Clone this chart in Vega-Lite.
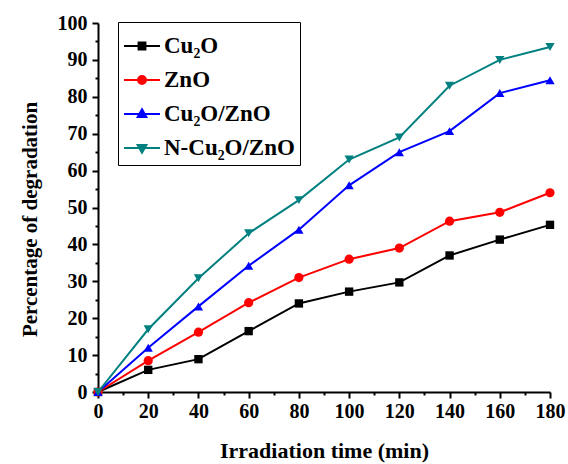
{
  "$schema": "https://vega.github.io/schema/vega-lite/v6.json",
  "width": 452,
  "height": 369,
  "autosize": {"type": "none"},
  "padding": {"left": 98, "top": 23, "right": 18, "bottom": 72},
  "background": "white",
  "config": {
    "view": {"stroke": null},
    "font": "Liberation Serif",
    "axis": {
      "labelFont": "Liberation Serif",
      "labelFontWeight": "bold",
      "labelFontSize": 20,
      "labelColor": "black",
      "titleFont": "Liberation Serif",
      "titleFontWeight": "bold",
      "titleFontSize": 22,
      "titleColor": "black",
      "domainColor": "black",
      "domainWidth": 2,
      "tickColor": "black",
      "tickWidth": 2,
      "grid": false
    },
    "legend": {
      "orient": "none",
      "legendX": 20,
      "legendY": -1,
      "strokeColor": "black",
      "fillColor": "white",
      "padding": 5,
      "labelFont": "Liberation Serif",
      "labelFontWeight": "bold",
      "labelFontSize": 23,
      "labelColor": "black",
      "labelLimit": 300,
      "symbolSize": 1296,
      "symbolStrokeWidth": 2,
      "rowPadding": 3,
      "labelOffset": 3
    }
  },
  "data": {
    "values": [
      {"t": 0, "s": "Cu₂O", "v": 0}, {"t": 20, "s": "Cu₂O", "v": 6}, {"t": 40, "s": "Cu₂O", "v": 8.9}, {"t": 60, "s": "Cu₂O", "v": 16.5}, {"t": 80, "s": "Cu₂O", "v": 24}, {"t": 100, "s": "Cu₂O", "v": 27.2}, {"t": 120, "s": "Cu₂O", "v": 29.7}, {"t": 140, "s": "Cu₂O", "v": 37}, {"t": 160, "s": "Cu₂O", "v": 41.3}, {"t": 180, "s": "Cu₂O", "v": 45.3},
      {"t": 0, "s": "ZnO", "v": 0}, {"t": 20, "s": "ZnO", "v": 8.5}, {"t": 40, "s": "ZnO", "v": 16.2}, {"t": 60, "s": "ZnO", "v": 24.2}, {"t": 80, "s": "ZnO", "v": 31}, {"t": 100, "s": "ZnO", "v": 36}, {"t": 120, "s": "ZnO", "v": 39}, {"t": 140, "s": "ZnO", "v": 46.3}, {"t": 160, "s": "ZnO", "v": 48.7}, {"t": 180, "s": "ZnO", "v": 54},
      {"t": 0, "s": "Cu₂O/ZnO", "v": 0}, {"t": 20, "s": "Cu₂O/ZnO", "v": 12}, {"t": 40, "s": "Cu₂O/ZnO", "v": 23.2}, {"t": 60, "s": "Cu₂O/ZnO", "v": 34.2}, {"t": 80, "s": "Cu₂O/ZnO", "v": 44}, {"t": 100, "s": "Cu₂O/ZnO", "v": 56}, {"t": 120, "s": "Cu₂O/ZnO", "v": 65}, {"t": 140, "s": "Cu₂O/ZnO", "v": 70.7}, {"t": 160, "s": "Cu₂O/ZnO", "v": 81}, {"t": 180, "s": "Cu₂O/ZnO", "v": 84.5},
      {"t": 0, "s": "N-Cu₂O/ZnO", "v": 0}, {"t": 20, "s": "N-Cu₂O/ZnO", "v": 17}, {"t": 40, "s": "N-Cu₂O/ZnO", "v": 30.8}, {"t": 60, "s": "N-Cu₂O/ZnO", "v": 43}, {"t": 80, "s": "N-Cu₂O/ZnO", "v": 52}, {"t": 100, "s": "N-Cu₂O/ZnO", "v": 63}, {"t": 120, "s": "N-Cu₂O/ZnO", "v": 69}, {"t": 140, "s": "N-Cu₂O/ZnO", "v": 83}, {"t": 160, "s": "N-Cu₂O/ZnO", "v": 90}, {"t": 180, "s": "N-Cu₂O/ZnO", "v": 93.5}
    ]
  },
  "encoding": {
    "x": {
      "field": "t", "type": "quantitative",
      "scale": {"domain": [0, 180], "nice": false},
      "axis": {
        "title": "Irradiation time (min)",
        "values": [0, 10, 20, 30, 40, 50, 60, 70, 80, 90, 100, 110, 120, 130, 140, 150, 160, 170, 180],
        "labelExpr": "datum.value % 20 === 0 ? datum.label : ''",
        "tickSize": {"condition": {"test": "datum.value % 20 === 0", "value": 6}, "value": 3},
        "labelPadding": 3,
        "titlePadding": 19,
        "labelFlush": false
      }
    },
    "y": {
      "field": "v", "type": "quantitative",
      "scale": {"domain": [0, 100], "nice": false},
      "axis": {
        "title": "Percentage of degradation",
        "values": [0, 5, 10, 15, 20, 25, 30, 35, 40, 45, 50, 55, 60, 65, 70, 75, 80, 85, 90, 95, 100],
        "labelExpr": "datum.value % 10 === 0 ? datum.label : ''",
        "tickSize": {"condition": {"test": "datum.value % 10 === 0", "value": 6}, "value": 3},
        "labelPadding": 5,
        "titlePadding": 17,
        "titleFontSize": 21,
        "titleY": 196,
        "labelFlush": false
      }
    },
    "color": {
      "field": "s", "type": "nominal",
      "scale": {"domain": ["Cu₂O", "ZnO", "Cu₂O/ZnO", "N-Cu₂O/ZnO"], "range": ["#000000", "#ff0000", "#0000ff", "#008080"]},
      "legend": {"title": null}
    }
  },
  "layer": [
    {
      "mark": {"type": "point", "filled": true, "size": 0, "opacity": 1, "strokeWidth": 2},
      "encoding": {
        "shape": {
          "field": "s", "type": "nominal",
          "scale": {"domain": ["Cu₂O", "ZnO", "Cu₂O/ZnO", "N-Cu₂O/ZnO"], "range": [
            "M-1,0H1M-0.19,-0.19H0.19V0.19H-0.19Z",
            "M-1,0H1M-0.22,0A0.22,0.22 0 1,0 0.22,0A0.22,0.22 0 1,0 -0.22,0Z",
            "M-1,0H1M0,-0.26L0.24,0.16H-0.24Z",
            "M-1,0H1M0,0.26L0.24,-0.16H-0.24Z"
          ]},
          "legend": {"title": null}
        }
      }
    },
    {
      "mark": {"type": "line", "strokeWidth": 2}
    },
    {
      "transform": [{"filter": "datum.s === 'Cu₂O'"}],
      "mark": {"type": "point", "filled": true, "size": 70, "opacity": 1, "shape": "square"}
    },
    {
      "transform": [{"filter": "datum.s === 'ZnO'"}],
      "mark": {"type": "point", "filled": true, "size": 85, "opacity": 1, "shape": "circle"}
    },
    {
      "transform": [{"filter": "datum.s === 'Cu₂O/ZnO'"}],
      "mark": {"type": "point", "filled": true, "size": 85, "opacity": 1, "shape": "triangle-up"}
    },
    {
      "transform": [{"filter": "datum.s === 'N-Cu₂O/ZnO'"}],
      "mark": {"type": "point", "filled": true, "size": 85, "opacity": 1, "shape": "triangle-down"}
    }
  ]
}
